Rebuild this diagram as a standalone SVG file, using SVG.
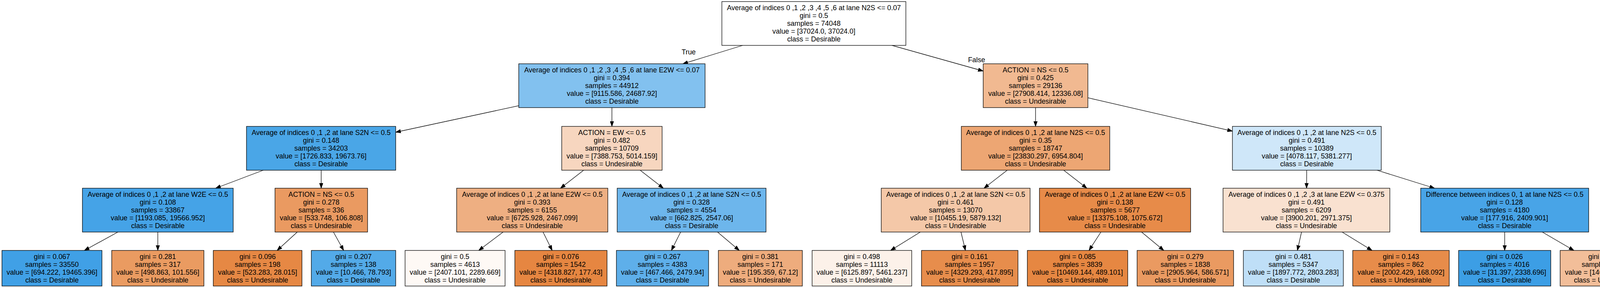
<svg xmlns="http://www.w3.org/2000/svg" width="4227" height="736" viewBox="0 0 4227 736">
<style>
text{font-family:"Liberation Sans",Arial,Helvetica,sans-serif;font-size:17.9px;text-anchor:middle;fill:#000}
.n rect{stroke:#000;stroke-width:1.3}
.e line{stroke:#000;stroke-width:1.3;fill:none;marker-end:url(#arr)}
</style>
<defs>
<marker id="arr" markerUnits="userSpaceOnUse" markerWidth="14" markerHeight="10" refX="13" refY="5" orient="auto" viewBox="0 0 14 10">
<path d="M0,0.4 L13,5 L0,9.6 z" fill="#000" stroke="#000" stroke-width="1"/>
</marker>
</defs>
<rect x="0" y="0" width="4227" height="736" fill="#fff"/>
<g id="connectors" class="e">
<line x1="1901.2" y1="116" x2="1748.2" y2="163"/>
<line x1="2283.3" y1="116" x2="2517" y2="181.5"/>
<line x1="1328" y1="270.2" x2="1013" y2="337.9"/>
<line x1="1566.5" y1="275" x2="1566.5" y2="323"/>
<line x1="2651" y1="275" x2="2651" y2="323"/>
<line x1="2785" y1="249.9" x2="3155" y2="335.1"/>
<line x1="673.9" y1="435" x2="552.1" y2="481"/>
<line x1="822.3" y1="435" x2="822.3" y2="481"/>
<line x1="1494.2" y1="435" x2="1434.8" y2="481"/>
<line x1="1638.8" y1="435" x2="1698.2" y2="481"/>
<line x1="2578.5" y1="435" x2="2519" y2="481"/>
<line x1="2723.1" y1="435" x2="2782.4" y2="481"/>
<line x1="3345.2" y1="435" x2="3344.8" y2="481"/>
<line x1="3525" y1="435" x2="3672.5" y2="481"/>
<line x1="301.8" y1="593" x2="216" y2="640"/>
<line x1="404" y1="593" x2="404" y2="640"/>
<line x1="761" y1="593" x2="709.4" y2="640"/>
<line x1="853.6" y1="593" x2="879.7" y2="640"/>
<line x1="1288" y1="593" x2="1225.5" y2="640"/>
<line x1="1390.2" y1="593" x2="1413.5" y2="640"/>
<line x1="1742.4" y1="593" x2="1718.8" y2="640"/>
<line x1="1836.9" y1="593" x2="1892.6" y2="640"/>
<line x1="2356" y1="593" x2="2280" y2="640"/>
<line x1="2460.1" y1="593" x2="2471.5" y2="640"/>
<line x1="2818.3" y1="593" x2="2787.9" y2="640"/>
<line x1="2922.4" y1="593" x2="2979.3" y2="640"/>
<line x1="3331.9" y1="593" x2="3321.3" y2="640"/>
<line x1="3435.8" y1="593" x2="3512.4" y2="640"/>
<line x1="3852" y1="593" x2="3852" y2="640"/>
<line x1="3948.3" y1="593" x2="4029.2" y2="640"/>
<text x="1763" y="139.3">True</text>
<text x="2500" y="159.3">False</text>
</g>
<g id="node0" class="n"><rect x="1848" y="4" width="471" height="112" fill="#ffffff"/>
<text x="2083.5" y="26.3">Average of indices 0 ,1 ,2 ,3 ,4 ,5 ,6 at lane N2S &lt;= 0.07</text><text x="2083.5" y="46.3">gini = 0.5</text><text x="2083.5" y="66.3">samples = 74048</text><text x="2083.5" y="86.3">value = [37024.0, 37024.0]</text><text x="2083.5" y="106.3">class = Desirable</text></g>
<g id="node1" class="n"><rect x="1328" y="163" width="477" height="112" fill="#82c1ef"/>
<text x="1566.5" y="185.3">Average of indices 0 ,1 ,2 ,3 ,4 ,5 ,6 at lane E2W &lt;= 0.07</text><text x="1566.5" y="205.3">gini = 0.394</text><text x="1566.5" y="225.3">samples = 44912</text><text x="1566.5" y="245.3">value = [9115.586, 24687.92]</text><text x="1566.5" y="265.3">class = Desirable</text></g>
<g id="node2" class="n"><rect x="2517" y="163" width="268" height="112" fill="#f1b991"/>
<text x="2651" y="185.3">ACTION = NS &lt;= 0.5</text><text x="2651" y="205.3">gini = 0.425</text><text x="2651" y="225.3">samples = 29136</text><text x="2651" y="245.3">value = [27908.414, 12336.08]</text><text x="2651" y="265.3">class = Undesirable</text></g>
<g id="node3" class="n"><rect x="631" y="323" width="382" height="112" fill="#4aa6e7"/>
<text x="822" y="345.3">Average of indices 0 ,1 ,2 at lane S2N &lt;= 0.5</text><text x="822" y="365.3">gini = 0.148</text><text x="822" y="385.3">samples = 34203</text><text x="822" y="405.3">value = [1726.833, 19673.76]</text><text x="822" y="425.3">class = Desirable</text></g>
<g id="node4" class="n"><rect x="1438" y="323" width="257" height="112" fill="#f7d6bf"/>
<text x="1566.5" y="345.3">ACTION = EW &lt;= 0.5</text><text x="1566.5" y="365.3">gini = 0.482</text><text x="1566.5" y="385.3">samples = 10709</text><text x="1566.5" y="405.3">value = [7388.753, 5014.159]</text><text x="1566.5" y="425.3">class = Undesirable</text></g>
<g id="node5" class="n"><rect x="2461" y="323" width="380" height="112" fill="#eda673"/>
<text x="2651" y="345.3">Average of indices 0 ,1 ,2 at lane N2S &lt;= 0.5</text><text x="2651" y="365.3">gini = 0.35</text><text x="2651" y="385.3">samples = 18747</text><text x="2651" y="405.3">value = [23830.297, 6954.804]</text><text x="2651" y="425.3">class = Undesirable</text></g>
<g id="node6" class="n"><rect x="3155" y="323" width="381" height="112" fill="#cfe7f9"/>
<text x="3345.5" y="345.3">Average of indices 0 ,1 ,2 at lane N2S &lt;= 0.5</text><text x="3345.5" y="365.3">gini = 0.491</text><text x="3345.5" y="385.3">samples = 10389</text><text x="3345.5" y="405.3">value = [4078.117, 5381.277]</text><text x="3345.5" y="425.3">class = Desirable</text></g>
<g id="node7" class="n"><rect x="211" y="481" width="386" height="112" fill="#45a3e7"/>
<text x="404" y="503.3">Average of indices 0 ,1 ,2 at lane W2E &lt;= 0.5</text><text x="404" y="523.3">gini = 0.108</text><text x="404" y="543.3">samples = 33867</text><text x="404" y="563.3">value = [1193.085, 19566.952]</text><text x="404" y="583.3">class = Desirable</text></g>
<g id="node8" class="n"><rect x="704" y="481" width="237" height="112" fill="#ea9a61"/>
<text x="822.5" y="503.3">ACTION = NS &lt;= 0.5</text><text x="822.5" y="523.3">gini = 0.278</text><text x="822.5" y="543.3">samples = 336</text><text x="822.5" y="563.3">value = [533.748, 106.808]</text><text x="822.5" y="583.3">class = Undesirable</text></g>
<g id="node9" class="n"><rect x="1169" y="481" width="387" height="112" fill="#eeaf82"/>
<text x="1362.5" y="503.3">Average of indices 0 ,1 ,2 at lane E2W &lt;= 0.5</text><text x="1362.5" y="523.3">gini = 0.393</text><text x="1362.5" y="543.3">samples = 6155</text><text x="1362.5" y="563.3">value = [6725.928, 2467.099]</text><text x="1362.5" y="583.3">class = Undesirable</text></g>
<g id="node10" class="n"><rect x="1580" y="481" width="381" height="112" fill="#6db6ec"/>
<text x="1770.5" y="503.3">Average of indices 0 ,1 ,2 at lane S2N &lt;= 0.5</text><text x="1770.5" y="523.3">gini = 0.328</text><text x="1770.5" y="543.3">samples = 4554</text><text x="1770.5" y="563.3">value = [662.825, 2547.06]</text><text x="1770.5" y="583.3">class = Desirable</text></g>
<g id="node11" class="n"><rect x="2256" y="481" width="381" height="112" fill="#f4c8a8"/>
<text x="2446.5" y="503.3">Average of indices 0 ,1 ,2 at lane S2N &lt;= 0.5</text><text x="2446.5" y="523.3">gini = 0.461</text><text x="2446.5" y="543.3">samples = 13070</text><text x="2446.5" y="563.3">value = [10455.19, 5879.132]</text><text x="2446.5" y="583.3">class = Undesirable</text></g>
<g id="node12" class="n"><rect x="2661" y="481" width="387" height="112" fill="#e78b49"/>
<text x="2854.5" y="503.3">Average of indices 0 ,1 ,2 at lane E2W &lt;= 0.5</text><text x="2854.5" y="523.3">gini = 0.138</text><text x="2854.5" y="543.3">samples = 5677</text><text x="2854.5" y="563.3">value = [13375.108, 1075.672]</text><text x="2854.5" y="583.3">class = Undesirable</text></g>
<g id="node13" class="n"><rect x="3131" y="481" width="427" height="112" fill="#f9e1d0"/>
<text x="3344.5" y="503.3">Average of indices 0 ,1 ,2 ,3 at lane E2W &lt;= 0.375</text><text x="3344.5" y="523.3">gini = 0.491</text><text x="3344.5" y="543.3">samples = 6209</text><text x="3344.5" y="563.3">value = [3900.201, 2971.375]</text><text x="3344.5" y="583.3">class = Undesirable</text></g>
<g id="node14" class="n"><rect x="3637" y="481" width="430" height="112" fill="#48a4e7"/>
<text x="3852" y="503.3">Difference between indices 0, 1 at lane N2S &lt;= 0.5</text><text x="3852" y="523.3">gini = 0.128</text><text x="3852" y="543.3">samples = 4180</text><text x="3852" y="563.3">value = [177.916, 2409.901]</text><text x="3852" y="583.3">class = Desirable</text></g>
<g id="leaf1" class="n"><rect x="5" y="640" width="256" height="91" fill="#40a0e6"/>
<text x="133" y="661.8">gini = 0.067</text><text x="133" y="681.8">samples = 33550</text><text x="133" y="701.8">value = [694.222, 19465.396]</text><text x="133" y="721.8">class = Desirable</text></g>
<g id="leaf2" class="n"><rect x="286" y="640" width="236" height="91" fill="#ea9b61"/>
<text x="404" y="661.8">gini = 0.281</text><text x="404" y="681.8">samples = 317</text><text x="404" y="701.8">value = [498.863, 101.556]</text><text x="404" y="721.8">class = Undesirable</text></g>
<g id="leaf3" class="n"><rect x="546" y="640" width="227" height="91" fill="#e68844"/>
<text x="659.5" y="661.8">gini = 0.096</text><text x="659.5" y="681.8">samples = 198</text><text x="659.5" y="701.8">value = [523.283, 28.015]</text><text x="659.5" y="721.8">class = Undesirable</text></g>
<g id="leaf4" class="n"><rect x="797" y="640" width="216" height="91" fill="#53aae8"/>
<text x="905" y="661.8">gini = 0.207</text><text x="905" y="681.8">samples = 138</text><text x="905" y="701.8">value = [10.466, 78.793]</text><text x="905" y="721.8">class = Desirable</text></g>
<g id="leaf5" class="n"><rect x="1037" y="640" width="256" height="91" fill="#fef9f5"/>
<text x="1165" y="661.8">gini = 0.5</text><text x="1165" y="681.8">samples = 4613</text><text x="1165" y="701.8">value = [2407.101, 2289.669]</text><text x="1165" y="721.8">class = Undesirable</text></g>
<g id="leaf6" class="n"><rect x="1318" y="640" width="236" height="91" fill="#e68641"/>
<text x="1436" y="661.8">gini = 0.076</text><text x="1436" y="681.8">samples = 1542</text><text x="1436" y="701.8">value = [4318.827, 177.43]</text><text x="1436" y="721.8">class = Undesirable</text></g>
<g id="leaf7" class="n"><rect x="1578" y="640" width="236" height="91" fill="#5eafea"/>
<text x="1696" y="661.8">gini = 0.267</text><text x="1696" y="681.8">samples = 4383</text><text x="1696" y="701.8">value = [467.466, 2479.94]</text><text x="1696" y="721.8">class = Desirable</text></g>
<g id="leaf8" class="n"><rect x="1839" y="640" width="215" height="91" fill="#eeac7d"/>
<text x="1946.5" y="661.8">gini = 0.381</text><text x="1946.5" y="681.8">samples = 171</text><text x="1946.5" y="701.8">value = [195.359, 67.12]</text><text x="1946.5" y="721.8">class = Undesirable</text></g>
<g id="leaf9" class="n"><rect x="2079" y="640" width="255" height="91" fill="#fcf1e9"/>
<text x="2206.5" y="661.8">gini = 0.498</text><text x="2206.5" y="681.8">samples = 11113</text><text x="2206.5" y="701.8">value = [6125.897, 5461.237]</text><text x="2206.5" y="721.8">class = Undesirable</text></g>
<g id="leaf10" class="n"><rect x="2359" y="640" width="247" height="91" fill="#e78d4c"/>
<text x="2482.5" y="661.8">gini = 0.161</text><text x="2482.5" y="681.8">samples = 1957</text><text x="2482.5" y="701.8">value = [4329.293, 417.895]</text><text x="2482.5" y="721.8">class = Undesirable</text></g>
<g id="leaf11" class="n"><rect x="2630" y="640" width="257" height="91" fill="#e68742"/>
<text x="2758.5" y="661.8">gini = 0.085</text><text x="2758.5" y="681.8">samples = 3839</text><text x="2758.5" y="701.8">value = [10469.144, 489.101]</text><text x="2758.5" y="721.8">class = Undesirable</text></g>
<g id="leaf12" class="n"><rect x="2911" y="640" width="247" height="91" fill="#ea9a61"/>
<text x="3034.5" y="661.8">gini = 0.279</text><text x="3034.5" y="681.8">samples = 1838</text><text x="3034.5" y="701.8">value = [2905.964, 586.571]</text><text x="3034.5" y="721.8">class = Undesirable</text></g>
<g id="leaf13" class="n"><rect x="3183" y="640" width="256" height="91" fill="#bfdff7"/>
<text x="3311" y="661.8">gini = 0.481</text><text x="3311" y="681.8">samples = 5347</text><text x="3311" y="701.8">value = [1897.772, 2803.283]</text><text x="3311" y="721.8">class = Desirable</text></g>
<g id="leaf14" class="n"><rect x="3463" y="640" width="247" height="91" fill="#e78c4a"/>
<text x="3586.5" y="661.8">gini = 0.143</text><text x="3586.5" y="681.8">samples = 862</text><text x="3586.5" y="701.8">value = [2002.429, 168.092]</text><text x="3586.5" y="721.8">class = Undesirable</text></g>
<g id="leaf15" class="n"><rect x="3734" y="640" width="236" height="91" fill="#3c9ee5"/>
<text x="3852" y="661.8">gini = 0.026</text><text x="3852" y="681.8">samples = 4016</text><text x="3852" y="701.8">value = [31.397, 2338.696]</text><text x="3852" y="721.8">class = Desirable</text></g>
<g id="leaf16" class="n"><rect x="3994" y="640" width="227" height="91" fill="#f2be99"/>
<text x="4107.5" y="661.8">gini = 0.44</text><text x="4107.5" y="681.8">samples = 164</text><text x="4107.5" y="701.8">value = [146.519, 71.206]</text><text x="4107.5" y="721.8">class = Undesirable</text></g>
</svg>
